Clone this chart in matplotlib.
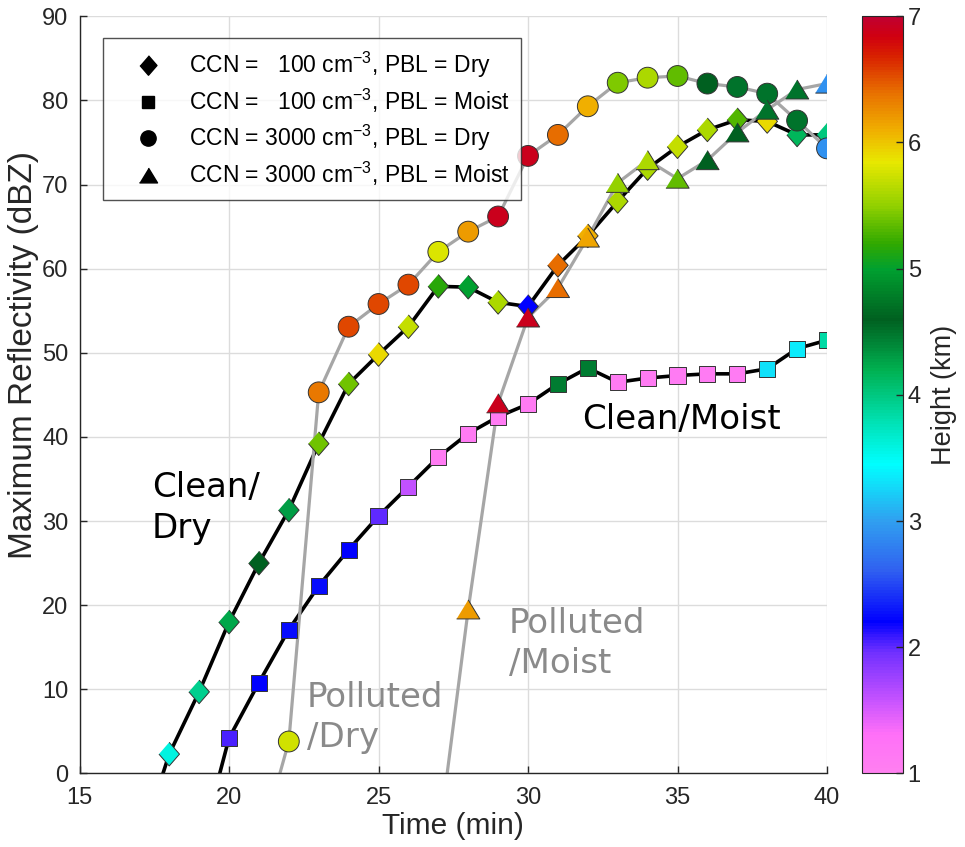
import numpy as np
import matplotlib
matplotlib.use("Agg")
import matplotlib.pyplot as plt
from matplotlib.colors import LinearSegmentedColormap
from matplotlib.lines import Line2D

plt.rcParams['font.family'] = ['Liberation Sans', 'DejaVu Sans']
plt.rcParams['mathtext.fontset'] = 'custom'
plt.rcParams['mathtext.rm'] = 'Liberation Sans'
plt.rcParams['mathtext.it'] = 'Liberation Sans:italic'

# time (min), max reflectivity (dBZ), height of max (km)
t_clean_dry = list(range(17, 41))
z_clean_dry = [-8.7, 2.3, 9.7, 18.0, 25.0, 31.3, 39.2, 46.3, 49.8, 53.1, 57.9, 57.8,
               56.0, 55.5, 60.4, 63.9, 68.0, 71.9, 74.5, 76.5, 77.7, 77.5, 75.9, 75.9]
h_clean_dry = [3.6, 3.95, 4.25, 4.6, 4.3, 5.4, 5.4, 5.9, 5.7, 5.15, 5.0, 5.6, 2.2,
               6.4, 6.1, 5.6, 5.6, 5.7, 5.6, 5.3, 5.9, 4.15, 4.0]

t_clean_moist = list(range(19, 41))
z_clean_moist = [-9.3, 4.2, 10.8, 17.1, 22.3, 26.6, 30.6, 34.1, 37.6, 40.4, 42.4, 43.9,
                 46.3, 48.2, 46.5, 47.0, 47.3, 47.5, 47.5, 48.1, 50.5, 51.5]
h_clean_moist = [2.05, 2.2, 2.25, 2.25, 2.2, 2.0, 1.6, 1.1, 1.1, 1.1, 1.1, 4.45, 4.45,
                 1.1, 1.1, 1.1, 1.1, 1.1, 3.3, 3.35, 3.85]

t_poll_dry = list(range(21, 41))
z_poll_dry = [-8.9, 3.8, 45.3, 53.1, 55.8, 58.1, 62.0, 64.4, 66.2, 73.4, 75.9, 79.3,
              82.1, 82.7, 82.9, 82.0, 81.6, 80.8, 77.6, 74.3]
h_poll_dry = [5.75, 6.35, 6.55, 6.55, 6.55, 5.8, 6.2, 6.9, 6.9, 6.4, 6.1, 5.45, 5.6,
              5.35, 4.6, 4.5, 4.5, 4.5, 2.9]

t_poll_moist = list(range(27, 41))
z_poll_moist = [-8.2, 19.5, 44.0, 54.2, 57.7, 63.7, 70.2, 72.9, 70.7, 72.9, 76.2, 78.9,
                81.3, 82.0]
h_poll_moist = [6.2, 6.9, 6.9, 6.4, 6.15, 5.5, 5.6, 5.35, 4.6, 4.6, 4.5, 4.5, 2.9]

legend_labels = [r'CCN =   100 cm$^{-3}$, PBL = Dry',
                 r'CCN =   100 cm$^{-3}$, PBL = Moist',
                 r'CCN = 3000 cm$^{-3}$, PBL = Dry',
                 r'CCN = 3000 cm$^{-3}$, PBL = Moist']

# colour scale for height
cmap_pos = [1.0, 1.3, 1.6, 1.95, 2.2, 2.6, 3.0, 3.45, 3.8, 4.2, 4.6, 5.0, 5.2, 5.5,
            5.85, 6.1, 6.4, 6.7, 6.85, 7.0]
cmap_col = ['#ff80f0', '#ff70f8', '#c050ff', '#7030ff', '#0000ff', '#3060f0', '#30a0f0',
            '#00ffff', '#00e0b0', '#00b050', '#006020', '#00a030', '#30a800', '#90d000',
            '#e8e800', '#f0b000', '#e87000', '#d82000', '#d00010', '#c00030']
cmap = LinearSegmentedColormap.from_list(
    'height', list(zip([(p - 1) / 6 for p in cmap_pos], cmap_col)))

diamond = [(0, 1.0), (0.87, 0), (0, -1.0), (-0.87, 0)]
triangle = [(-1, -0.82), (1, -0.82), (0, 0.82)]

fig = plt.figure(figsize=(9.65, 8.47), dpi=100)
ax = fig.add_axes([0.0824, 0.0868, 0.7746, 0.894])

black = '#000000'
gray = '#a6a6a6'
ax.plot(t_clean_dry, z_clean_dry, color=black, lw=2.6, zorder=2)
ax.plot(t_clean_moist, z_clean_moist, color=black, lw=2.6, zorder=2)
ax.plot(t_poll_dry, z_poll_dry, color=gray, lw=2.3, zorder=2)
ax.plot(t_poll_moist, z_poll_moist, color=gray, lw=2.3, zorder=2)

kw = dict(cmap=cmap, vmin=1, vmax=7, edgecolors='#333333', linewidths=0.7, zorder=3)
sc = ax.scatter(t_clean_dry[1:], z_clean_dry[1:], c=h_clean_dry, marker=diamond, s=290, **kw)
ax.scatter(t_clean_moist[1:], z_clean_moist[1:], c=h_clean_moist, marker='s', s=135, **kw)
ax.scatter(t_poll_dry[1:], z_poll_dry[1:], c=h_poll_dry, marker='o', s=225, **kw)
ax.scatter(t_poll_moist[1:], z_poll_moist[1:], c=h_poll_moist, marker=triangle, s=280, **kw)

ax.set_xlim(15, 40)
ax.set_ylim(0, 90)
ax.set_xticks(np.arange(15, 41, 5))
ax.set_yticks(np.arange(0, 91, 10))
ax.grid(True, color='#dcdcdc', lw=1.0)
ax.set_axisbelow(True)
for s in ['top', 'right']:
    ax.spines[s].set_visible(False)
for s in ['left', 'bottom']:
    ax.spines[s].set_color('#262626')
    ax.spines[s].set_linewidth(1.0)
ax.tick_params(direction='in', length=5, width=1, colors='#262626', labelsize=17, pad=8)
ax.tick_params(axis='x', pad=10)
ax.set_xlabel('Time (min)', fontsize=21.5, color='#262626', labelpad=2)
ax.set_ylabel('Maximum Reflectivity (dBZ)', fontsize=24, color='#262626')
ax.yaxis.set_label_coords(-0.054, 0.553)

txt = dict(family='DejaVu Sans', fontsize=24.5, va='top', linespacing=1.28)
ax.text(17.42, 35.9, 'Clean/\nDry', color='black', **txt)
ax.text(31.8, 44.0, 'Clean/Moist', color='black', **txt)
ax.text(22.6, 11.0, 'Polluted\n/Dry', color='#8a8a8a', **txt)
ax.text(29.35, 19.8, 'Polluted\n/Moist', color='#8a8a8a', **txt)

handles = [Line2D([], [], ls='none', marker=m, color='black', markersize=ms)
           for m, ms in [(diamond, 14), ('s', 8.5), ('o', 11), (triangle, 13)]]
leg = ax.legend(handles, legend_labels, loc='upper left', bbox_to_anchor=(0.0314, 0.971),
                fontsize=16.5, frameon=True, fancybox=False, edgecolor='#262626',
                handlelength=2.9, handletextpad=0.35, borderpad=0.5, labelspacing=0.32,
                borderaxespad=0)
leg.get_frame().set_linewidth(1.0)

cax = fig.add_axes([0.893, 0.0868, 0.0425, 0.894])
cb = fig.colorbar(sc, cax=cax, ticks=np.arange(1, 8))
cb.outline.set_edgecolor('#262626')
cb.ax.tick_params(direction='in', length=5, width=1, colors='#262626', labelsize=17)
cb.set_label('Height (km)', fontsize=19.5, color='#262626')
cb.ax.yaxis.set_label_coords(1.7, 0.5)

fig.savefig('out.png', dpi=100)
